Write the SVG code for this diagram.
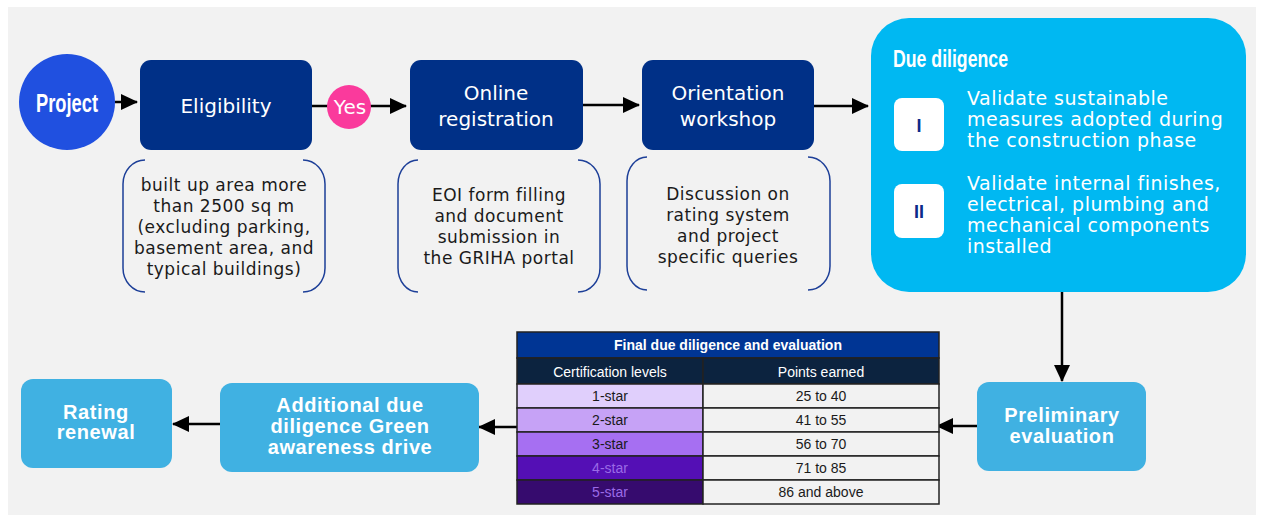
<svg xmlns="http://www.w3.org/2000/svg" width="1262" height="515" viewBox="0 0 1262 515">
<style>
.bg{fill:#f2f2f2}
.dark{fill:#003087}
.cyan{fill:#00b8f2}
.light{fill:#40b1e2}
.wt{fill:#ffffff;text-anchor:middle}
.reg{font-family:"DejaVu Sans","Liberation Sans",sans-serif;font-size:20px}
.bold{font-family:"Liberation Sans",Arial,sans-serif;font-size:20px;font-weight:bold;letter-spacing:0.6px}
.desc{fill:#1a1a1a;font-family:"DejaVu Sans","Liberation Sans",sans-serif;font-size:17px;letter-spacing:0.5px;text-anchor:middle}
.brk{fill:none;stroke:#1d3f98;stroke-width:1.5}
.con{stroke:#000;stroke-width:2.5;fill:none}
.tb{font-family:"Liberation Sans",Arial,sans-serif;font-size:14px;text-anchor:middle}
.cell{stroke:#222;stroke-width:1.5}
</style>
<defs>
<marker id="ah" markerUnits="userSpaceOnUse" markerWidth="17" markerHeight="16" refX="16" refY="8" orient="auto">
<path d="M0,0 L17,8 L0,16 Z" fill="#000"/>
</marker>
</defs>
<rect x="8" y="7" width="1248" height="508" class="bg"/>

<g id="connectors">
<line x1="115" y1="102" x2="137" y2="102" class="con" marker-end="url(#ah)"/>
<line x1="312" y1="106" x2="406" y2="106" class="con" marker-end="url(#ah)"/>
<line x1="583" y1="105" x2="639" y2="105" class="con" marker-end="url(#ah)"/>
<line x1="814" y1="106" x2="868" y2="106" class="con" marker-end="url(#ah)"/>
<line x1="919" y1="151" x2="919" y2="184" class="con" marker-end="url(#ah)"/>
<line x1="1062" y1="292" x2="1062" y2="381" class="con" marker-end="url(#ah)"/>
<line x1="977" y1="426" x2="937" y2="426" class="con" marker-end="url(#ah)"/>
<line x1="517" y1="427" x2="479" y2="427" class="con" marker-end="url(#ah)"/>
<line x1="220" y1="424" x2="173" y2="424" class="con" marker-end="url(#ah)"/>
</g>

<g id="project">
<circle cx="67" cy="102" r="48" fill="#2050e0"/>
<text x="67" y="112" class="wt" font-family="Liberation Sans, Arial, sans-serif" font-size="26" font-weight="bold" textLength="62" lengthAdjust="spacingAndGlyphs">Project</text>
</g>

<g id="eligibility">
<rect x="140" y="60" width="172" height="90" rx="11" class="dark"/>
<text x="226" y="113" class="wt reg">Eligibility</text>
</g>

<g id="yes">
<circle cx="349" cy="107" r="22" fill="#fa3a9c"/>
<text x="350" y="114" class="wt reg" font-size="19">Yes</text>
</g>

<g id="eligibility-note">
<path class="brk" d="M145,160 A22,24 0 0 0 123,184 V268 A22,24 0 0 0 145,292"/>
<path class="brk" d="M303,160 A22,24 0 0 1 325,184 V268 A22,24 0 0 1 303,292"/>
<text class="desc"><tspan x="224" y="191">built up area more</tspan><tspan x="224" y="212">than 2500 sq m</tspan><tspan x="224" y="233">(excluding parking,</tspan><tspan x="224" y="254">basement area, and</tspan><tspan x="224" y="275">typical buildings)</tspan></text>
</g>

<g id="online-registration">
<rect x="410" y="60" width="173" height="90" rx="11" class="dark"/>
<text class="wt reg"><tspan x="496" y="100">Online</tspan><tspan x="496" y="126">registration</tspan></text>
</g>

<g id="registration-note">
<path class="brk" d="M418,160 A20,24 0 0 0 398,184 V268 A20,24 0 0 0 418,292"/>
<path class="brk" d="M578,160 A22,24 0 0 1 600,184 V268 A22,24 0 0 1 578,292"/>
<text class="desc"><tspan x="499" y="201">EOI form filling</tspan><tspan x="499" y="222">and document</tspan><tspan x="499" y="243">submission in</tspan><tspan x="499" y="264">the GRIHA portal</tspan></text>
</g>

<g id="orientation-workshop">
<rect x="642" y="60" width="172" height="90" rx="11" class="dark"/>
<text class="wt reg"><tspan x="728" y="100">Orientation</tspan><tspan x="728" y="126">workshop</tspan></text>
</g>

<g id="workshop-note">
<path class="brk" d="M647,157 A20,24 0 0 0 627,181 V266 A20,24 0 0 0 647,290"/>
<path class="brk" d="M808,157 A22,24 0 0 1 830,181 V266 A22,24 0 0 1 808,290"/>
<text class="desc"><tspan x="728" y="200">Discussion on</tspan><tspan x="728" y="221">rating system</tspan><tspan x="728" y="242">and project</tspan><tspan x="728" y="263">specific queries</tspan></text>
</g>

<g id="due-diligence">
<rect x="871" y="18" width="375" height="274" rx="38" class="cyan"/>
<text x="893" y="67" fill="#fff" font-family="Liberation Sans, Arial, sans-serif" font-size="24" font-weight="bold" textLength="115" lengthAdjust="spacingAndGlyphs">Due diligence</text>
<rect x="894" y="98" width="50" height="53" rx="8" fill="#fff"/>
<text x="919" y="132" font-family="Liberation Sans, Arial, sans-serif" font-size="18" font-weight="bold" fill="#0d2a8a" text-anchor="middle">I</text>
<rect x="894" y="184" width="50" height="54" rx="8" fill="#fff"/>
<text x="919" y="218" font-family="Liberation Sans, Arial, sans-serif" font-size="18" font-weight="bold" fill="#0d2a8a" text-anchor="middle">II</text>
<text fill="#fff" font-family="DejaVu Sans, Liberation Sans, sans-serif" font-size="19" letter-spacing="0.5"><tspan x="967" y="105">Validate sustainable</tspan><tspan x="967" y="126">measures adopted during</tspan><tspan x="967" y="147">the construction phase</tspan><tspan x="967" y="190">Validate internal finishes,</tspan><tspan x="967" y="211">electrical, plumbing and</tspan><tspan x="967" y="232">mechanical components</tspan><tspan x="967" y="253">installed</tspan></text>
</g>

<g id="preliminary-evaluation">
<rect x="977" y="382" width="169" height="89" rx="12" class="light"/>
<text class="wt bold"><tspan x="1062" y="422">Preliminary</tspan><tspan x="1062" y="443">evaluation</tspan></text>
</g>

<g id="evaluation-table">
<rect x="517" y="332" width="422" height="26" fill="#003594" class="cell"/>
<rect x="517" y="358" width="186" height="26" fill="#0c233f" class="cell"/>
<rect x="703" y="358" width="236" height="26" fill="#0c233f" class="cell"/>
<rect x="517" y="384" width="186" height="24" fill="#e0cffc" class="cell"/>
<rect x="517" y="408" width="186" height="24" fill="#c6a2f6" class="cell"/>
<rect x="517" y="432" width="186" height="24" fill="#a66ff2" class="cell"/>
<rect x="517" y="456" width="186" height="24" fill="#540fb5" class="cell"/>
<rect x="517" y="480" width="186" height="24" fill="#360b6e" class="cell"/>
<rect x="703" y="384" width="236" height="24" fill="#f2f2f2" class="cell"/>
<rect x="703" y="408" width="236" height="24" fill="#f2f2f2" class="cell"/>
<rect x="703" y="432" width="236" height="24" fill="#f2f2f2" class="cell"/>
<rect x="703" y="456" width="236" height="24" fill="#f2f2f2" class="cell"/>
<rect x="703" y="480" width="236" height="24" fill="#f2f2f2" class="cell"/>
<text x="728" y="350" class="tb" fill="#fff" font-weight="bold" font-size="12.5">Final due diligence and evaluation</text>
<text x="610" y="377" class="tb" fill="#fff">Certification levels</text>
<text x="821" y="377" class="tb" fill="#fff">Points earned</text>
<text x="610" y="401" class="tb" fill="#1a1a1a">1-star</text>
<text x="610" y="425" class="tb" fill="#1a1a1a">2-star</text>
<text x="610" y="449" class="tb" fill="#1a1a1a">3-star</text>
<text x="610" y="473" class="tb" fill="#9a6ae6">4-star</text>
<text x="610" y="497" class="tb" fill="#9a6ae6">5-star</text>
<text x="821" y="401" class="tb" fill="#1a1a1a">25 to 40</text>
<text x="821" y="425" class="tb" fill="#1a1a1a">41 to 55</text>
<text x="821" y="449" class="tb" fill="#1a1a1a">56 to 70</text>
<text x="821" y="473" class="tb" fill="#1a1a1a">71 to 85</text>
<text x="821" y="497" class="tb" fill="#1a1a1a">86 and above</text>
</g>

<g id="additional-due-diligence">
<rect x="220" y="383" width="259" height="89" rx="12" class="light"/>
<text class="wt bold"><tspan x="350" y="412">Additional due</tspan><tspan x="350" y="433">diligence Green</tspan><tspan x="350" y="454">awareness drive</tspan></text>
</g>

<g id="rating-renewal">
<rect x="21" y="379" width="151" height="89" rx="12" class="light"/>
<text class="wt bold"><tspan x="96" y="419">Rating</tspan><tspan x="96" y="439">renewal</tspan></text>
</g>
</svg>
